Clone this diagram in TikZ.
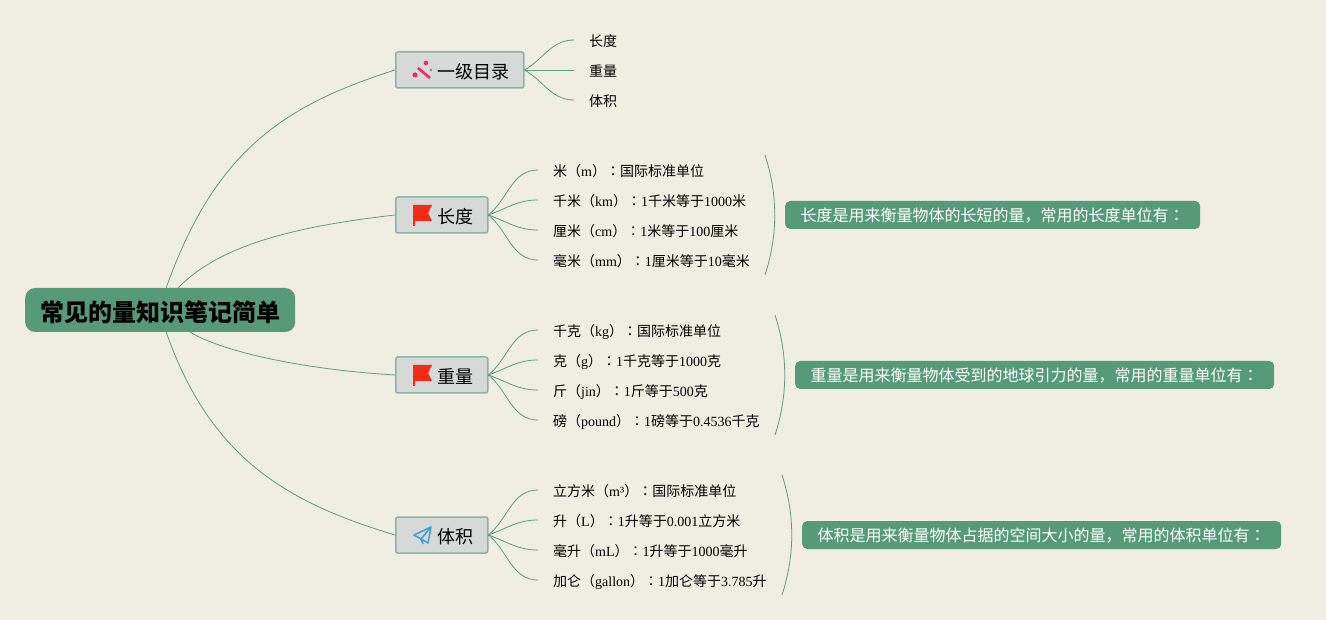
\documentclass[tikz,border=0pt]{standalone}
\usepackage{fontspec}
\usepackage{xcolor}
\usepackage{tikz}
\usetikzlibrary{calc}
\setmainfont{Noto Sans CJK SC}
\newfontfamily\latinrun{Liberation Serif}
\newfontfamily\colonrun{Noto Sans CJK JP}
\definecolor{mmPaper}{HTML}{f0ede3}
\definecolor{mmGreen}{HTML}{569a7a}
\definecolor{mmLine}{HTML}{5f9c82}
\definecolor{mmGrey}{HTML}{d6d9d8}
\definecolor{mmEdge}{HTML}{8ab4a6}
\definecolor{mmRed}{HTML}{f42a12}
\definecolor{mmPink}{HTML}{ea2a6c}
\definecolor{mmBlue}{HTML}{4a9fd8}
\newcommand{\ls}[1]{{\latinrun #1}}
\newcommand{\cn}{{\colonrun ：}}
\newcommand{\flagmark}[1]{%
  \fill[mmRed] ($(#1.west)+(18,-10)$) -- ($(#1.west)+(37,-10)$) -- ($(#1.west)+(33,-2)$) -- ($(#1.west)+(37,6)$) -- ($(#1.west)+(20,6)$) -- ($(#1.west)+(20,11)$) -- ($(#1.west)+(18,11)$) -- cycle;}
\newcommand{\wandmark}[1]{%
  \draw[mmPink, line width=2.6pt] ($(#1.west)+(23,-2)$) -- ($(#1.west)+(35,8)$);
  \fill[mmPink] ($(#1.west)+(20,5)$) circle (2.6) ($(#1.west)+(31,-7)$) circle (2.3) ($(#1.west)+(36,0)$) circle (1.2);}
\newcommand{\planemark}[1]{%
  \draw[mmBlue, line width=1.6pt, line join=round] ($(#1.west)+(36,-8)$) -- ($(#1.west)+(19,0)$) -- ($(#1.west)+(26,4)$) -- ($(#1.west)+(36,-8)$) -- ($(#1.west)+(33,8)$) -- ($(#1.west)+(26,4)$) -- ($(#1.west)+(28,9)$);}

\begin{document}
\begin{tikzpicture}[
  x=1pt, y=-1pt,
  rootbox/.style={fill=mmGreen, rounded corners=10pt, anchor=west, inner xsep=15pt, inner ysep=0pt, minimum height=44pt, text height=25pt, text depth=2.8pt, font=\fontsize{24}{28}\selectfont\bfseries},
  topicbox/.style={draw=mmEdge, fill=mmGrey, line width=1.5pt, rounded corners=2pt, anchor=west, inner xsep=14.5pt, inner ysep=0pt, minimum height=36pt, text height=19pt, text depth=2.4pt, font=\fontsize{18}{22}\selectfont},
  leaflbl/.style={anchor=west, inner xsep=15pt, inner ysep=0pt, text height=15pt, text depth=1.4pt, font=\fontsize{14}{16}\selectfont},
  notebox/.style={fill=mmGreen, text=white, rounded corners=5pt, anchor=west, inner xsep=15.5pt, inner ysep=0pt, minimum height=28pt, text height=15pt, text depth=2pt, font=\fontsize{16}{20}\selectfont},
  link/.style={mmLine, line width=0.8pt},
]
\useasboundingbox (0,0) rectangle (1326,620);
\fill[mmPaper] (0,0) rectangle (1326,620);
% root and topics
\node[rootbox] (R) at (25,310) {常见的量知识笔记简单};
\node[topicbox] (T0) at (395,70) {\hspace*{27pt}一级目录};
\node[topicbox] (T1) at (395,215) {\hspace*{27pt}长度};
\node[topicbox] (T2) at (395,375) {\hspace*{27pt}重量};
\node[topicbox] (T3) at (395,535) {\hspace*{27pt}体积};
\wandmark{T0}
\flagmark{T1}
\flagmark{T2}
\planemark{T3}
% root to topics
\draw[link] ($(R.north)+(6,0)$) .. controls ($(R.north)+(55,-138)$) and ($(T0.west)+(-110,35)$) .. (T0.west);
\draw[link] ($(R.north)+(18,0)$) .. controls ($(R.north)+(55,-38)$) and ($(T1.west)+(-115,13)$) .. (T1.west);
\draw[link] ($(R.south)+(30,0)$) .. controls ($(R.south)+(65,21)$) and ($(T2.west)+(-85,-5)$) .. (T2.west);
\draw[link] ($(R.south)+(6,0)$) .. controls ($(R.south)+(50,125)$) and ($(T3.west)+(-110,-33)$) .. (T3.west);
% first topic leaves
\node[leaflbl] (L01) at (574,40) {长度};
\node[leaflbl] (L02) at (574,70) {重量};
\node[leaflbl] (L03) at (574,100) {体积};
\draw[link] (T0.east) to[out=30,in=180] (L01.west);
\draw[link] (T0.east) -- (L02.west);
\draw[link] (T0.east) to[out=-30,in=180] (L03.west);
% length leaves
\node[leaflbl] (L11) at (538,170) {米（\ls{m}）\cn 国际标准单位};
\node[leaflbl] (L12) at (538,200) {千米（\ls{km}）\cn\ls{1}千米等于\ls{1000}米};
\node[leaflbl] (L13) at (538,230) {厘米（\ls{cm}）\cn\ls{1}米等于\ls{100}厘米};
\node[leaflbl] (L14) at (538,260) {毫米（\ls{mm}）\cn\ls{1}厘米等于\ls{10}毫米};
\draw[link] (T1.east) to[out=40,in=180] (L11.west);
\draw[link] (T1.east) to[out=20,in=180] (L12.west);
\draw[link] (T1.east) to[out=-20,in=180] (L13.west);
\draw[link] (T1.east) to[out=-40,in=180] (L14.west);
% weight leaves
\node[leaflbl] (L21) at (538,330) {千克（\ls{kg}）\cn 国际标准单位};
\node[leaflbl] (L22) at (538,360) {克（\ls{g}）\cn\ls{1}千克等于\ls{1000}克};
\node[leaflbl] (L23) at (538,390) {斤（\ls{jin}）\cn\ls{1}斤等于\ls{500}克};
\node[leaflbl] (L24) at (538,420) {磅（\ls{pound}）\cn\ls{1}磅等于\ls{0.4536}千克};
\draw[link] (T2.east) to[out=40,in=180] (L21.west);
\draw[link] (T2.east) to[out=20,in=180] (L22.west);
\draw[link] (T2.east) to[out=-20,in=180] (L23.west);
\draw[link] (T2.east) to[out=-40,in=180] (L24.west);
% volume leaves
\node[leaflbl] (L31) at (538,490) {立方米（\ls{m³}）\cn 国际标准单位};
\node[leaflbl] (L32) at (538,520) {升（\ls{L}）\cn\ls{1}升等于\ls{0.001}立方米};
\node[leaflbl] (L33) at (538,550) {毫升（\ls{mL}）\cn\ls{1}升等于\ls{1000}毫升};
\node[leaflbl] (L34) at (538,580) {加仑（\ls{gallon}）\cn\ls{1}加仑等于\ls{3.785}升};
\draw[link] (T3.east) to[out=40,in=180] (L31.west);
\draw[link] (T3.east) to[out=20,in=180] (L32.west);
\draw[link] (T3.east) to[out=-20,in=180] (L33.west);
\draw[link] (T3.east) to[out=-40,in=180] (L34.west);
% summary notes with their brackets
\node[notebox] (N1) at (785,215) {长度是用来衡量物体的长短的量，常用的长度单位有\cn};
\node[notebox] (N2) at (795,375) {重量是用来衡量物体受到的地球引力的量，常用的重量单位有\cn};
\node[notebox] (N3) at (802,535) {体积是用来衡量物体占据的空间大小的量，常用的体积单位有\cn};
\draw[link] ($(N1.west)+(-20,-60)$) .. controls ($(N1.west)+(-7,-20)$) and ($(N1.west)+(-7,20)$) .. ($(N1.west)+(-20,60)$);
\draw[link] ($(N2.west)+(-20,-60)$) .. controls ($(N2.west)+(-7,-20)$) and ($(N2.west)+(-7,20)$) .. ($(N2.west)+(-20,60)$);
\draw[link] ($(N3.west)+(-20,-60)$) .. controls ($(N3.west)+(-7,-20)$) and ($(N3.west)+(-7,20)$) .. ($(N3.west)+(-20,60)$);
\end{tikzpicture}
\end{document}
